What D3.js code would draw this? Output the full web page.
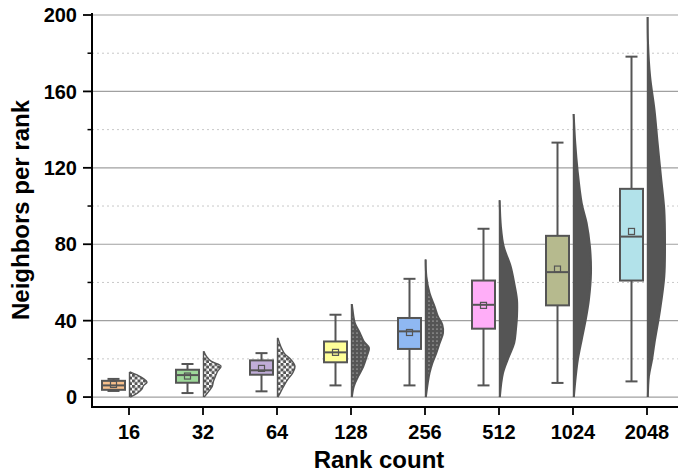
<!DOCTYPE html>
<html>
<head>
<meta charset="utf-8">
<script src="https://cdn.jsdelivr.net/npm/d3@7"></script>
<style>
  html, body { margin: 0; padding: 0; background: #fff; }
  svg { display: block; font-family: "Liberation Sans", Arial, sans-serif; }
</style>
</head>
<body>
<svg id="chart" width="678" height="476"></svg>
<script>
// ---------- data ----------
const categories = ["16", "32", "64", "128", "256", "512", "1024", "2048"];
const whiskerLow  = [3.2, 2.1, 3.0, 6.1, 6.1, 6.1, 7.4, 8.2];
const q1          = [3.8, 7.5, 11.7, 18.2, 25.2, 35.8, 48.0, 61.0];
const median      = [6.1, 11.5, 14.0, 23.4, 34.4, 48.3, 65.4, 84.0];
const mean        = [6.6, 11.0, 15.0, 23.4, 33.8, 48.0, 67.0, 86.7];
const q3          = [8.5, 14.3, 19.2, 29.1, 41.4, 61.0, 84.4, 109.0];
const whiskerHigh = [9.5, 17.3, 23.0, 43.1, 61.9, 88.1, 133.2, 178.2];

// relative density profiles of the half violins: [value, relative density]
const density16   = [[0,0.04],[2,0.45],[4,0.7],[6,0.8],[7.7,1.0],[10,0.75],[11.7,0.4],[13.2,0.03]];
const density32   = [[0,0.04],[3,0.3],[5.6,0.5],[8.2,0.57],[10.8,0.68],[13.4,0.8],[16.2,1.0],[18.7,0.45],[21.3,0.17],[24,0.02]];
const density64   = [[0,0.02],[2.1,0.15],[5.6,0.35],[9.1,0.58],[12.6,0.87],[16,1.0],[19.6,0.77],[23,0.38],[26.5,0.19],[31,0.02]];
const density128  = [[0,0.02],[5.6,0.13],[10.8,0.38],[16,0.67],[21.3,0.87],[25.7,1.0],[29.1,0.7],[33.5,0.48],[38.8,0.19],[45.7,0.06],[48.7,0.02]];
const density256  = [[0,0.02],[7.4,0.13],[12.6,0.23],[17.8,0.39],[23.1,0.62],[28.3,0.81],[33.5,1.0],[37.9,0.96],[42.2,0.71],[47.4,0.52],[54.4,0.23],[63.1,0.05],[72,0.01]];
const density512  = [[0,0.02],[12.6,0.2],[21.3,0.54],[28.3,0.84],[35.3,0.94],[42.2,1.0],[50.9,1.0],[59.7,0.84],[68.4,0.64],[78.8,0.24],[89.3,0.08],[103,0.01]];
const density1024 = [[0,0.02],[10.8,0.13],[19.6,0.25],[30,0.47],[40.5,0.7],[50.9,0.88],[64.9,1.0],[78.8,0.94],[91.1,0.75],[101.5,0.47],[118.9,0.23],[132.9,0.1],[148.2,0.01]];
const density2048 = [[0,0.02],[10.8,0.08],[19.6,0.26],[28.3,0.4],[45.7,0.72],[63.1,0.96],[80.6,1.0],[98,0.96],[115.4,0.77],[132.9,0.58],[150.3,0.4],[167.7,0.15],[185.2,0.03],[199,0.01]];
const densities = [density16, density32, density64, density128, density256, density512, density1024, density2048];

const majorTicks = [0, 40, 80, 120, 160, 200];
const minorTicks = [20, 60, 100, 140, 180];

const boxColors = ["#F8C08C", "#9ED99A", "#C0ADD8", "#FFFF99", "#8FB8F2", "#FFAEF8", "#B6BA8E", "#B2E2EA"];
const texture = ["sparse", "sparse", "sparse", "medium", "medium", "solid", "solid", "solid"];

// ---------- layout ----------
const svg = d3.select("#chart");
const plotLeft = 92, plotRight = 678, plotTop = 15, plotBottom = 407;
const x = d3.scaleBand().domain(categories).range([92, 684]).padding(0);
const cx = c => x(c) + x.bandwidth() / 2;
const y = d3.scaleLinear().domain([-5.2, 200]).range([plotBottom, plotTop]);
const w = d3.scaleLinear().domain([0, 1]).range([0, 17.5]);
const boxOffset = -15.5, boxW = 23, capW = 12;
const grey = "#555555";

// textures standing in for the jittered points
const defs = svg.append("defs");
const pSparse = defs.append("pattern").attr("id", "sparse").attr("patternUnits", "userSpaceOnUse")
  .attr("width", 5.5).attr("height", 5.5);
pSparse.append("circle").attr("cx", 1.4).attr("cy", 1.4).attr("r", 1.75).attr("fill", grey);
pSparse.append("circle").attr("cx", 4.15).attr("cy", 4.15).attr("r", 1.75).attr("fill", grey);
const pMed = defs.append("pattern").attr("id", "medium").attr("patternUnits", "userSpaceOnUse")
  .attr("width", 4).attr("height", 4);
pMed.append("rect").attr("width", 4).attr("height", 4).attr("fill", grey);
pMed.append("circle").attr("cx", 1).attr("cy", 1).attr("r", 0.55).attr("fill", "#fff");

// gridlines
svg.append("g").selectAll("line").data(minorTicks).join("line")
  .attr("x1", plotLeft).attr("x2", plotRight).attr("y1", d => y(d)).attr("y2", d => y(d))
  .attr("stroke", "#c8c8c8").attr("stroke-width", 1).attr("stroke-dasharray", "2,3");
svg.append("g").selectAll("line").data(majorTicks).join("line")
  .attr("x1", plotLeft).attr("x2", plotRight).attr("y1", d => y(d)).attr("y2", d => y(d))
  .attr("stroke", "#a0a0a0").attr("stroke-width", 1.2);

// violins
const area = d3.area().curve(d3.curveCatmullRom).y(d => y(d[0]));
const edge = d3.line().curve(d3.curveCatmullRom);
categories.forEach((c, i) => {
  const sx = cx(c) + 0.5;
  const dens = densities[i];
  const a = area.x0(sx).x1(d => sx + w(d[1]))(dens);
  const fill = texture[i] === "solid" ? grey : `url(#${texture[i]})`;
  svg.append("path").attr("d", a).attr("fill", fill).attr("stroke", "none");
  svg.append("path")
    .attr("d", edge.x(d => sx + w(d[1])).y(d => y(d[0]))(dens))
    .attr("fill", "none").attr("stroke", grey).attr("stroke-width", texture[i] === "sparse" ? 1.4 : 2);
  svg.append("line").attr("x1", sx).attr("x2", sx)
    .attr("y1", y(dens[0][0])).attr("y2", y(dens[dens.length - 1][0]))
    .attr("stroke", grey).attr("stroke-width", 1.4);
});

// boxes
const boxes = svg.append("g");
categories.forEach((c, i) => {
  const bx = cx(c) + boxOffset;
  const g = boxes.append("g");
  g.append("line").attr("x1", bx).attr("x2", bx).attr("y1", y(whiskerHigh[i])).attr("y2", y(q3[i]))
    .attr("stroke", grey).attr("stroke-width", 2);
  g.append("line").attr("x1", bx).attr("x2", bx).attr("y1", y(q1[i])).attr("y2", y(whiskerLow[i]))
    .attr("stroke", grey).attr("stroke-width", 2);
  [whiskerHigh[i], whiskerLow[i]].forEach(v => {
    g.append("line").attr("x1", bx - capW / 2).attr("x2", bx + capW / 2).attr("y1", y(v)).attr("y2", y(v))
      .attr("stroke", grey).attr("stroke-width", 2);
  });
  g.append("rect").attr("x", bx - boxW / 2).attr("width", boxW)
    .attr("y", y(q3[i])).attr("height", y(q1[i]) - y(q3[i]))
    .attr("fill", boxColors[i]).attr("stroke", grey).attr("stroke-width", 2);
  g.append("line").attr("x1", bx - boxW / 2).attr("x2", bx + boxW / 2).attr("y1", y(median[i])).attr("y2", y(median[i]))
    .attr("stroke", grey).attr("stroke-width", 2);
  g.append("rect").attr("x", bx - 3).attr("y", y(mean[i]) - 3).attr("width", 6).attr("height", 6)
    .attr("fill", "none").attr("stroke", grey).attr("stroke-width", 1.2);
});

// axes
const yAxis = svg.append("g");
yAxis.append("line").attr("x1", plotLeft).attr("x2", plotLeft).attr("y1", 13).attr("y2", plotBottom + 1)
  .attr("stroke", "#000").attr("stroke-width", 2);
yAxis.selectAll(".maj").data(majorTicks).join("line").attr("class", "maj")
  .attr("x1", 83).attr("x2", plotLeft).attr("y1", d => y(d)).attr("y2", d => y(d))
  .attr("stroke", "#000").attr("stroke-width", 1.8);
yAxis.selectAll(".min").data(minorTicks).join("line").attr("class", "min")
  .attr("x1", 87.5).attr("x2", plotLeft).attr("y1", d => y(d)).attr("y2", d => y(d))
  .attr("stroke", "#000").attr("stroke-width", 1.5);
yAxis.selectAll("text").data(majorTicks).join("text")
  .attr("x", 77).attr("y", d => y(d)).attr("dy", "0.36em").attr("text-anchor", "end")
  .attr("font-size", 20).attr("font-weight", "bold").attr("fill", "#000").text(d => d);

const xAxis = svg.append("g");
xAxis.append("line").attr("x1", plotLeft - 1).attr("x2", plotRight).attr("y1", plotBottom).attr("y2", plotBottom)
  .attr("stroke", "#000").attr("stroke-width", 2);
xAxis.selectAll("line.t").data(categories).join("line").attr("class", "t")
  .attr("x1", d => cx(d)).attr("x2", d => cx(d)).attr("y1", plotBottom).attr("y2", plotBottom + 8)
  .attr("stroke", "#000").attr("stroke-width", 1.8);
xAxis.selectAll("text").data(categories).join("text")
  .attr("x", d => cx(d)).attr("y", 439).attr("text-anchor", "middle")
  .attr("font-size", 20).attr("font-weight", "bold").attr("fill", "#000").text(d => d);

// titles
svg.append("text").attr("x", 379).attr("y", 468).attr("text-anchor", "middle")
  .attr("font-size", 24).attr("font-weight", "bold").attr("fill", "#000").text("Rank count");
svg.append("text").attr("transform", "translate(29,210) rotate(-90)").attr("text-anchor", "middle")
  .attr("font-size", 24).attr("font-weight", "bold").attr("fill", "#000").text("Neighbors per rank");
</script>
</body>
</html>
